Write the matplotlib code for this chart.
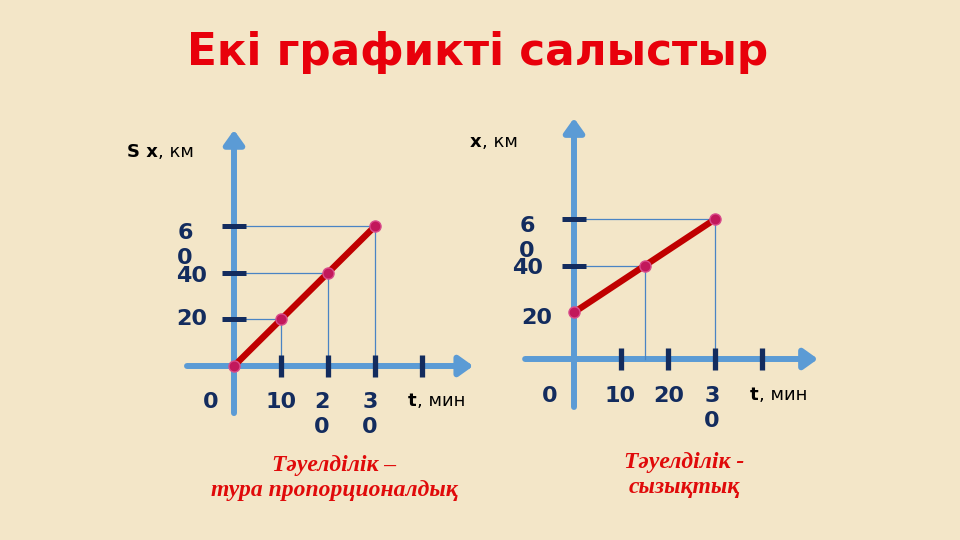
import matplotlib
matplotlib.use('Agg')
import matplotlib.pyplot as plt

# ---------------- data ----------------
title = 'Екі графикті салыстыр'

left_t = [0, 10, 20, 30]
left_s = [0, 20, 40, 60]
left_xticks = [10, 20, 30, 40]
left_xlabel_vals = [0, 10, 20, 30]
left_xlabels = ['0', '10', '2\n0', '3\n0']
left_yticks = [20, 40, 60]
left_ylabel_vals = [20, 40, 60]
left_ylabels = ['20', '40', '6\n0']
left_ytitle = ('S x', ', км')
left_xtitle = ('t', ', мин')
left_caption = 'Тәуелділік –\nтура пропорционалдық'

right_t = [0, 15, 30]
right_x = [20, 40, 60]
right_xticks = [10, 20, 30, 40]
right_xlabel_vals = [0, 10, 20, 30]
right_xlabels = ['0', '10', '20', '3\n0']
right_yticks = [40, 60]
right_ylabel_vals = [20, 40, 60]
right_ylabels = ['20', '40', '6\n0']
right_ytitle = ('x', ', км')
right_xtitle = ('t', ', мин')
right_caption = 'Тәуелділік -\nсызықтық'

# ---------------- style ----------------
BG = '#F3E6C8'
AXIS_BLUE = '#5B9BD5'
GUIDE_BLUE = '#4A84C4'
NAVY = '#132C5E'
LINE_RED = '#C00000'
MARK = '#C2185B'
MARK_EDGE = '#D94C8C'
TITLE_RED = '#E8000B'
CAP_RED = '#E00A0A'

W, H = 960, 540
SX, SY = 4.7, 2.33  # pixels per data unit

fig = plt.figure(figsize=(W / 100, H / 100), dpi=100, facecolor=BG)

ov = fig.add_axes([0, 0, 1, 1])
ov.set_xlim(0, W)
ov.set_ylim(H, 0)
ov.axis('off')
ov.patch.set_alpha(0)


def make_axes(ox, oy):
    ax = fig.add_axes([0, 0, 1, 1])
    ax.set_xlim(-ox / SX, (W - ox) / SX)
    ax.set_ylim((oy - H) / SY, oy / SY)
    ax.axis('off')
    ax.patch.set_alpha(0)
    return ax


def arrow(ax, start, end):
    ax.annotate('', xy=end, xytext=start,
                arrowprops=dict(arrowstyle='-|>,head_length=0.42,head_width=0.3',
                                lw=4.3, color=AXIS_BLUE, mutation_scale=20,
                                shrinkA=0, shrinkB=0), zorder=1)


def draw_chart(ax, t, v, xticks, yticks, xl_vals, xl, xl_off, yl_vals, yl, yl_off,
               xext, yext):
    arrow(ax, (xext[0], 0), (xext[1], 0))
    arrow(ax, (0, yext[0]), (0, yext[1]))
    # guides
    for ti, vi in zip(t, v):
        if ti > 0:
            ax.plot([0, ti], [vi, vi], color=GUIDE_BLUE, lw=0.9, zorder=2)
            ax.plot([ti, ti], [vi, 0], color=GUIDE_BLUE, lw=0.9, zorder=2)
    # tick bars
    for xt in xticks:
        ax.plot([xt, xt], [-4.7, 4.7], color=NAVY, lw=3.8, solid_capstyle='butt', zorder=3)
    for yt in yticks:
        ax.plot([-2.6, 2.6], [yt, yt], color=NAVY, lw=3.6, solid_capstyle='butt', zorder=3)
    # series
    ax.plot(t, v, color=LINE_RED, lw=4.6, solid_capstyle='round', zorder=4)
    ax.plot(t, v, 'o', ms=8, color=MARK, mec=MARK_EDGE, mew=1, zorder=5)
    # tick labels
    for val, lab, (dx, dy) in zip(xl_vals, xl, xl_off):
        ax.annotate(lab, xy=(val, 0), xytext=(dx, dy), textcoords='offset pixels',
                    ha='center', va='top', fontsize=16, fontweight='bold',
                    color=NAVY, linespacing=1.3, family='DejaVu Sans')
    for val, lab, (dx, dy) in zip(yl_vals, yl, yl_off):
        ax.annotate(lab, xy=(0, val), xytext=(dx, dy), textcoords='offset pixels',
                    ha='center', va='center', fontsize=16, fontweight='bold',
                    color=NAVY, linespacing=1.3, family='DejaVu Sans')


axL = make_axes(234, 366)
draw_chart(axL, left_t, left_s, left_xticks, left_yticks,
           left_xlabel_vals, left_xlabels, [(-23, -26), (0, -26), (-6, -26), (-5, -26)],
           left_ylabel_vals, left_ylabels, [(-42, 0), (-42, -3), (-49, -19)],
           (-10, 50.9), (-20.2, 101.3))

axR = make_axes(574, 359)
draw_chart(axR, right_t, right_x, right_xticks, right_yticks,
           right_xlabel_vals, right_xlabels, [(-24, -27), (-1, -27), (1, -27), (-3, -27)],
           right_ylabel_vals, right_ylabels, [(-37, -6), (-46, -2), (-47, -19)],
           (-10.4, 51.9), (-20.6, 103.4))


def mixed(x, y, bold_part, rest, size=13):
    t1 = ov.text(x, y, bold_part, ha='left', va='center', fontsize=size,
                 fontweight='bold', color='black', family='DejaVu Sans')
    ov.annotate(rest, xy=(1, 0.5), xycoords=t1, ha='left', va='center',
                fontsize=size, color='black', family='DejaVu Sans')


mixed(127, 152, *left_ytitle)
mixed(470, 142, *right_ytitle)
mixed(408, 401, *left_xtitle)
mixed(750, 395, *right_xtitle)

ov.text(478, 52, title, ha='center', va='center', fontsize=31.5, fontweight='bold',
        color=TITLE_RED, family='DejaVu Sans')

cap_font = dict(family=['Liberation Serif', 'DejaVu Serif'], fontweight='bold',
                fontstyle='italic', color=CAP_RED, fontsize=17, linespacing=1.3,
                ha='center', va='center')
ov.text(334, 478, left_caption, **cap_font)
ov.text(684, 475, right_caption, **cap_font)

fig.savefig('out.png', dpi=100, facecolor=BG)
